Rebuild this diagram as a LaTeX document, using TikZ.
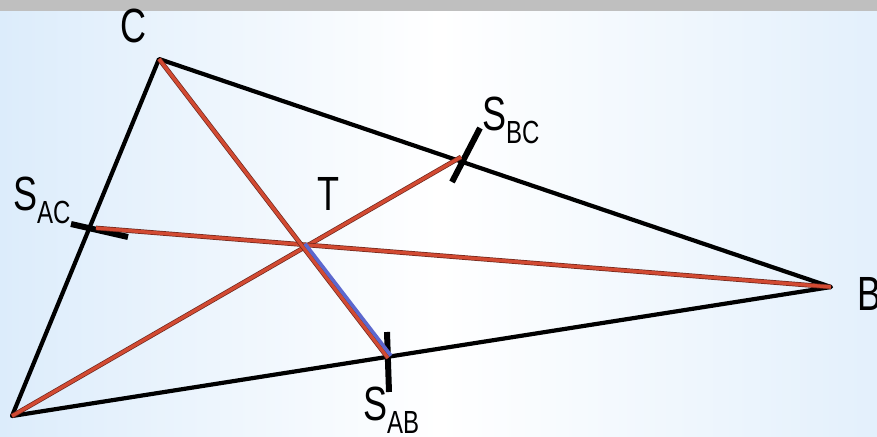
\documentclass[tikz,border=0pt]{standalone}
\usepackage{fontspec}
\setmainfont{Liberation Sans}[FakeStretch=0.75]
\usetikzlibrary{calc}
\definecolor{medred}{RGB}{210,74,50}
\definecolor{meddark}{RGB}{110,38,28}
\definecolor{segblue}{RGB}{92,104,206}
\definecolor{bgblue}{RGB}{220,236,251}
\newcommand{\lblsub}[1]{\raisebox{-13pt}{\fontsize{32}{32}\selectfont #1}}

\begin{document}
\begin{tikzpicture}[
  x=1pt, y=-1pt,
  side/.style={line width=4.2pt, black, line join=round},
  median/.style={line width=3.3pt, medred, preaction={draw=meddark, line width=4.7pt}},
  tick/.style={line width=6pt, black},
  seg/.style={line width=3.6pt, segblue},
  lbl/.style={inner sep=0pt, font=\fontsize{48}{48}\selectfont, anchor=base west}
]
% background
\fill[gray!50] (0,0) rectangle (877,12);
\shade[left color=bgblue, right color=bgblue!80, middle color=white] (0,12) rectangle (877,436);
\useasboundingbox (0,0) rectangle (877,436);

% vertices, side midpoints and centroid
\coordinate (A) at (12,416);
\coordinate (B) at (831,287);
\coordinate (C) at (159,59);
\coordinate (T) at (302,246);
\coordinate (Sab) at (388,358);
\coordinate (Sbc) at (461,157);
\coordinate (Sac) at (96,228);

% tick ends
\coordinate (ab1) at (387,332);
\coordinate (ab2) at (389,392);
\coordinate (bc1) at (480,128);
\coordinate (bc2) at (452,182);
\coordinate (ac1) at (71,224);
\coordinate (ac2) at (128,237);

% triangle
\draw[side] (A) -- (B) -- (C) -- cycle;

% ticks
\draw[tick] (ab1) -- (ab2);
\draw[tick] (bc1) -- (bc2);
\draw[tick] (ac1) -- (ac2);

% medians
\draw[median] (A) -- (Sbc);
\draw[median] (B) -- (Sac);
\draw[median] (C) -- (Sab);
\draw[seg] ($(T)+(3,-2.3)$) -- ($(Sab)+(3,-2.3)$);

% labels
\node[lbl, anchor=base] (lC) at (133,42) {C};
\node[lbl, anchor=base] (lT) at (328,210) {T};
\node[lbl] (lB) at (857,310) {B};
\node[lbl] (lSac) at (13,210) {S\lblsub{AC}};
\node[lbl] (lSab) at (363,420) {S\lblsub{AB}};
\node[lbl] (lSbc) at (482,130) {S\lblsub{BC}};
\end{tikzpicture}
\end{document}
